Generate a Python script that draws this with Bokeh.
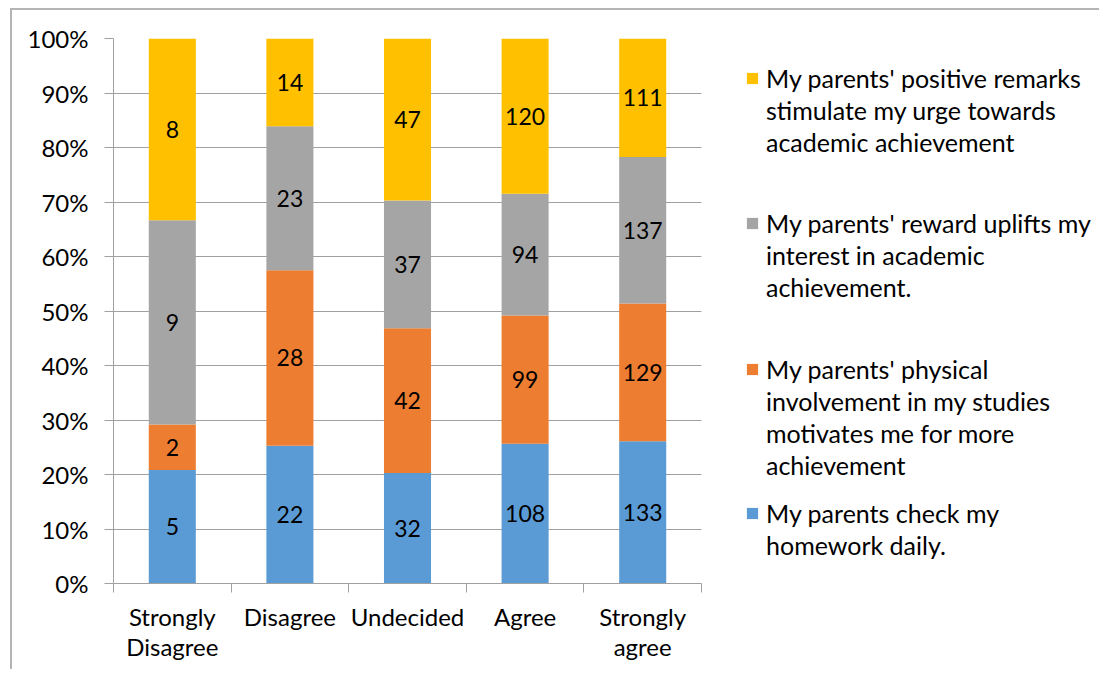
from bokeh.plotting import figure
from bokeh.models import FixedTicker, NumeralTickFormatter, Legend, LegendItem, ColumnDataSource, Range1d
from bokeh.core.properties import value
from bokeh.embed import file_html
from bokeh.resources import INLINE

categories = ["Strongly\nDisagree", "Disagree", "Undecided", "Agree", "Strongly\nagree"]
homework = [5, 22, 32, 108, 133]
physical = [2, 28, 42, 99, 129]
reward = [9, 23, 37, 94, 137]
remarks = [8, 14, 47, 120, 111]

series_keys = ["homework", "physical", "reward", "remarks"]
series_values = [homework, physical, reward, remarks]
colors = ["#5B9BD5", "#ED7D31", "#A5A5A5", "#FFC000"]
legend_labels = [
    "My parents check my\nhomework daily.",
    "My parents' physical\ninvolvement in my studies\nmotivates me for more\nachievement",
    "My parents' reward uplifts my\ninterest in academic\nachievement.",
    "My parents' positive remarks\nstimulate my urge towards\nacademic achievement",
]
y_ticks = [0, 0.1, 0.2, 0.3, 0.4, 0.5, 0.6, 0.7, 0.8, 0.9, 1.0]

FONT = "Lato"
FS_AXIS = "24px"
FS_LEG = "25px"
FS_DATA = "23px"
GRID = "#A0A0A0"

# layout (pixels)
W, H = 1099, 669
LEFT, TOP, BOTTOM = 113, 38, 86
BARS_W = 588          # width of the bar area
FRAME_W = W - LEFT    # frame extends under the legend

n = len(categories)
xs = [i + 0.5 for i in range(n)]
totals = [sum(s[i] for s in series_values) for i in range(n)]
data = {"x": xs}
for k, s in zip(series_keys, series_values):
    data[k] = [v / t for v, t in zip(s, totals)]
source = ColumnDataSource(data)

p = figure(width=W, height=H, x_range=Range1d(0, n * FRAME_W / BARS_W), y_range=Range1d(0, 1),
           output_backend="svg", toolbar_location=None,
           min_border_left=LEFT, min_border_right=0, min_border_top=TOP, min_border_bottom=BOTTOM)
p.border_fill_color = None
p.background_fill_color = "white"
p.outline_line_color = None
p.styles = {"box-shadow": "inset 10px 8px 0 0 #ffffff, inset 12px 10px 0 0 #B4B4B4"}

renderers = p.vbar_stack(series_keys, x="x", width=0.4, source=source, color=colors, line_color=None)

# data labels
cum = [0.0] * n
for k, s in zip(series_keys, series_values):
    fr = data[k]
    mids = [c + f / 2 for c, f in zip(cum, fr)]
    cum = [c + f for c, f in zip(cum, fr)]
    p.text(x=xs, y=mids, text=[str(v) for v in s], text_align="center", text_baseline="middle",
           text_font=value(FONT), text_font_size=FS_DATA, text_color="#000000")

# y axis
p.yaxis.ticker = FixedTicker(ticks=y_ticks, minor_ticks=[])
p.yaxis.formatter = NumeralTickFormatter(format="0%")
p.yaxis.major_tick_out = 9
p.yaxis.major_tick_in = 0
p.yaxis.major_tick_line_color = GRID
p.yaxis.axis_line_color = GRID
p.yaxis.major_label_standoff = 16
p.yaxis.major_label_text_font = FONT
p.yaxis.major_label_text_font_size = FS_AXIS
p.yaxis.major_label_text_color = "#000000"
p.ygrid.ticker = FixedTicker(ticks=y_ticks, minor_ticks=[])
p.ygrid.grid_line_color = GRID
p.ygrid.cross_bounds = (0, n)
p.xgrid.grid_line_color = None

# x axis
p.xaxis.bounds = (0, n)
p.xaxis.ticker = FixedTicker(ticks=xs, minor_ticks=[float(i) for i in range(n + 1)])
p.xaxis.major_label_overrides = {x: c for x, c in zip(xs, categories)}
p.xaxis.major_tick_line_color = None
p.xaxis.major_tick_out = 9
p.xaxis.major_tick_in = 0
p.xaxis.minor_tick_out = 9
p.xaxis.minor_tick_in = 0
p.xaxis.minor_tick_line_color = GRID
p.xaxis.axis_line_color = GRID
p.xaxis.major_label_standoff = 9
p.xaxis.major_label_text_font = FONT
p.xaxis.major_label_text_font_size = FS_AXIS
p.xaxis.major_label_text_color = "#000000"
p.xaxis.major_label_text_line_height = 1.05

# invisible renderer used for the continuation lines of the wrapped legend labels
blank = p.scatter(x=[0.0], y=[0.0], size=1, fill_alpha=0, line_alpha=0)

# legends (one per entry, positioned like the original: swatch beside the first line)
legend_pos = [(632, 23), (632, 103), (632, 281), (632, 426)]
for r, lab, pos in zip(renderers, legend_labels, legend_pos):
    lines = lab.split("\n")
    items = [LegendItem(label=lines[0], renderers=[r])]
    items += [LegendItem(label=ln, renderers=[blank]) for ln in lines[1:]]
    leg = Legend(items=items, location=pos)
    leg.padding = 0
    leg.margin = 0
    leg.spacing = 2
    leg.border_line_color = None
    leg.background_fill_alpha = 0
    leg.glyph_width = 14
    leg.glyph_height = 14
    leg.label_standoff = 7
    leg.label_text_font = FONT
    leg.label_text_font_size = FS_LEG
    leg.label_text_color = "#000000"
    p.add_layout(leg)

open("out.html", "w").write(file_html(p, INLINE))
